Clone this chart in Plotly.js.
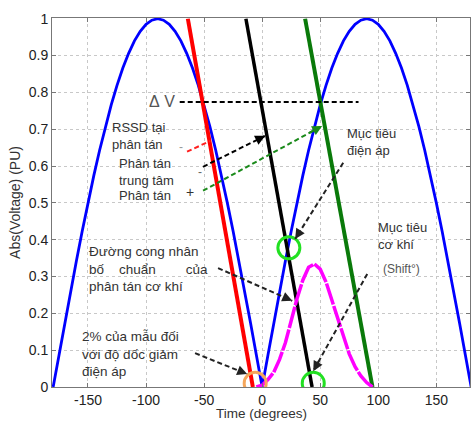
<!DOCTYPE html>
<html><head><meta charset="utf-8">
<script src="https://cdn.plot.ly/plotly-3.0.1.min.js"></script>
<style>html,body{margin:0;padding:0;background:#fff}</style>
</head><body>
<div id="chart" style="width:472px;height:421px"></div>
<script>
// Blue |V| curve read at 5-degree steps
const blueX = [-180,-175,-170,-165,-160,-155,-150,-145,-140,-135,-130,-125,-120,-115,-110,-105,-100,-95,-90,-85,-80,-75,-70,-65,-60,-55,-50,-45,-40,-35,-30,-25,-20,-15,-10,-5,0,5,10,15,20,25,30,35,40,45,50,55,60,65,70,75,80,85,90,95,100,105,110,115,120,125,130,135,140,145,150,155,160,165,170,175,180];
const blueY = [0,0.087,0.174,0.259,0.342,0.423,0.5,0.574,0.643,0.707,0.766,0.819,0.866,0.906,0.94,0.966,0.985,0.996,1,0.996,0.985,0.966,0.94,0.906,0.866,0.819,0.766,0.707,0.643,0.574,0.5,0.423,0.342,0.259,0.174,0.087,0,0.087,0.174,0.259,0.342,0.423,0.5,0.574,0.643,0.707,0.766,0.819,0.866,0.906,0.94,0.966,0.985,0.996,1,0.996,0.985,0.966,0.94,0.906,0.866,0.819,0.766,0.707,0.643,0.574,0.5,0.423,0.342,0.259,0.174,0.087,0];
const redX = [-64, -8];   const redY = [1, 0];
const blackX = [-14, 43]; const blackY = [1, 0];
const greenX = [37, 95];  const greenY = [1, 0];
const magX = [-5,0,5,10,15,20,25,30,35,40,45,50,55,60,65,70,75,80,85,90,95];
const magY = [0,0.005,0.02,0.04,0.075,0.12,0.18,0.24,0.29,0.325,0.334,0.32,0.285,0.235,0.185,0.135,0.09,0.055,0.03,0.012,0];
const deltaVX = [-71, 83]; const deltaVY = [0.774, 0.774];
const orangeCircleX = [-6]; const orangeCircleY = [0.01];
const greenCircleX = [23, 44]; const greenCircleY = [0.378, 0.01];
const xTicks = [-150,-100,-50,0,50,100,150];
const yTicks = [0,0.1,0.2,0.3,0.4,0.5,0.6,0.7,0.8,0.9,1];
const yTickText = ['0','0.1','0.2','0.3','0.4','0.5','0.6','0.7','0.8','0.9','1'];
// dashed arrows: [fromX, fromY, toX, toY]
const arrowRed = [-64.7, 0.639, -44.8, 0.668];
const arrowCenter = [-50.9, 0.598, 2.6, 0.682];
const arrowGreen = [-50.9, 0.533, 51.7, 0.709];
const arrowVolt = [69.8, 0.609, 28.4, 0.402];
const arrowMech = [90.5, 0.307, 44, 0.043];
const arrowDist = [-38, 0.323, 25.9, 0.234];
const arrow2pct = [-57.8, 0.092, -12.9, 0.035];

const traces = [
  {x: blueX, y: blueY, mode:'lines', line:{color:'#0000ff', width:2.8}},
  {x: redX, y: redY, mode:'lines', line:{color:'#ff0000', width:4}},
  {x: blackX, y: blackY, mode:'lines', line:{color:'#000000', width:3.5}},
  {x: greenX, y: greenY, mode:'lines', line:{color:'#0a7a0a', width:4}},
  {x: magX, y: magY, mode:'lines', line:{color:'#ff00ff', width:3.5, dash:'22px,1.5px'}},
  {x: deltaVX, y: deltaVY, mode:'lines', line:{color:'#000', width:2, dash:'5px,3px'}},
  {x: orangeCircleX, y: orangeCircleY, mode:'markers', marker:{symbol:'circle-open', size:22, line:{color:'#f5a65b', width:3}, color:'#f5a65b'}},
  {x: greenCircleX, y: greenCircleY, mode:'markers', marker:{symbol:'circle-open', size:22, line:{color:'#22e022', width:3}, color:'#22e022'}}
];
const annotations = [];
function addArrow(a, color){
  traces.push({x:[a[0], a[2]], y:[a[1], a[3]], mode:'lines', line:{color:color, width:2, dash:'5px,3px'}});
  const fx = a[2] - (a[2]-a[0])*0.12, fy = a[3] - (a[3]-a[1])*0.12;
  annotations.push({x:a[2], y:a[3], ax:fx, ay:fy, axref:'x', ayref:'y', xref:'x', yref:'y', text:'', showarrow:true, arrowhead:2, arrowsize:1, arrowwidth:2, arrowcolor:color});
}
addArrow(arrowRed, '#ff2020');
addArrow(arrowCenter, '#000');
addArrow(arrowGreen, '#1a8a1a');
addArrow(arrowVolt, '#222');
addArrow(arrowMech, '#222');
addArrow(arrowDist, '#222');
addArrow(arrow2pct, '#222');
traces.forEach(t => { t.hoverinfo = 'skip'; t.showlegend = false; });

const tf = {family:'Liberation Sans, Arial, sans-serif', size:13, color:'#333'};
function txt(x, y, text, font){
  annotations.push({x:x, y:y, xref:'x', yref:'y', text:text, showarrow:false, xanchor:'left', yanchor:'middle', align:'left', font:font || tf});
}
txt(-131, 0.681, 'RSSD tại<br>phân tán');
txt(-73, 0.652, '-', {family:'Liberation Sans, Arial', size:12, color:'#999'});
txt(-125, 0.585, 'Phân tán<br>trung tâm');
txt(-57, 0.585, '-', {family:'Liberation Sans, Arial', size:12, color:'#666'});
txt(-125, 0.52, 'Phân tán');
txt(-67.5, 0.53, '+', {family:'Liberation Sans, Arial', size:14, color:'#333'});
txt(71.5, 0.664, 'Mục tiêu<br>điện áp');
txt(98.3, 0.41, 'Mục tiêu<br>cơ khí');
txt(102.6, 0.32, '(Shift°)', {family:'Liberation Sans, Arial', size:12, color:'#555'});
txt(-151, 0.32, 'Đường cong nhân<br>bố&nbsp;&nbsp;&nbsp;&nbsp;chuẩn&nbsp;&nbsp;&nbsp;&nbsp;&nbsp;&nbsp;&nbsp;&nbsp;của<br>phân tán cơ khí', {family:'Liberation Sans, Arial, sans-serif', size:13.5, color:'#333'});
txt(-157, 0.09, '2% của mẫu đối<br>với độ dốc giảm<br>điện áp', {family:'Liberation Sans, Arial, sans-serif', size:13.5, color:'#333'});
txt(-99, 0.774, 'Δ&nbsp;V', {family:'Liberation Sans, Arial', size:16, color:'#555'});
// x-axis title placed as a paper annotation (sits low, as in the reference)
annotations.push({xref:'paper', yref:'paper', x:0.5, y:-0.072, xanchor:'center', yanchor:'middle', showarrow:false,
  text:'Time (degrees)', font:{family:'Liberation Sans, Arial', size:13.5, color:'#333'}});

const axFont = {family:'Liberation Sans, Arial, sans-serif', size:14, color:'#222'};
const layout = {
  width:472, height:421,
  margin:{l:52, r:2, t:18, b:34},
  paper_bgcolor:'#fff', plot_bgcolor:'#fff',
  showlegend:false,
  xaxis:{range:[-181, 179], tickvals:xTicks, ticktext:xTicks.map(String), tickfont:axFont,
    showgrid:true, gridcolor:'#c8c8c8', griddash:'dot', gridwidth:1,
    zeroline:false, showline:true, linecolor:'#777', linewidth:1, mirror:'ticks',
    ticks:'inside', ticklen:4, tickcolor:'#777'},
  yaxis:{range:[0, 1.002], tickvals:yTicks, ticktext:yTickText, tickfont:axFont,
    showgrid:true, gridcolor:'#c8c8c8', griddash:'dot', gridwidth:1,
    zeroline:false, showline:true, linecolor:'#777', linewidth:1, mirror:'ticks',
    ticks:'inside', ticklen:4, tickcolor:'#777',
    title:{text:'Abs(Voltage) (PU)', font:{family:'Liberation Sans, Arial', size:14, color:'#333'}, standoff:4}},
  annotations: annotations
};
Plotly.newPlot('chart', traces, layout, {displayModeBar:false, staticPlot:true});
</script>
</body></html>
